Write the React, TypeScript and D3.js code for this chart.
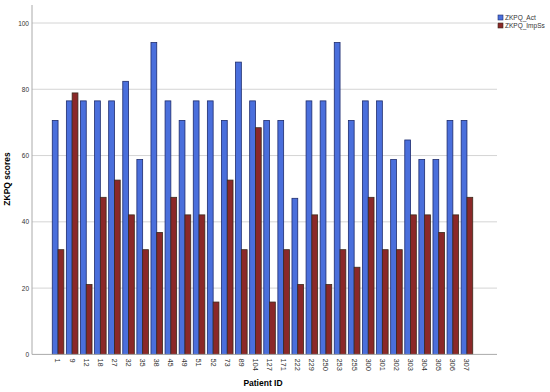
import React, { useRef, useEffect } from 'react';
import * as d3 from 'd3';

const patients = ['1', '9', '12', '18', '27', '32', '35', '38', '45', '49', '51', '52', '73', '89', '104', '127', '171', '222', '229', '250', '253', '255', '300', '301', '302', '303', '304', '305', '306', '307'];
const actScores = [70.6, 76.5, 76.5, 76.5, 76.5, 82.4, 58.8, 94.1, 76.5, 70.6, 76.5, 76.5, 70.6, 88.2, 76.5, 70.6, 70.6, 47.1, 76.5, 76.5, 94.1, 70.6, 76.5, 76.5, 58.8, 64.7, 58.8, 58.8, 70.6, 70.6];
const impScores = [31.6, 78.9, 21.1, 47.4, 52.6, 42.1, 31.6, 36.8, 47.4, 42.1, 42.1, 15.8, 52.6, 31.6, 68.4, 15.8, 31.6, 21.1, 42.1, 21.1, 31.6, 26.3, 47.4, 31.6, 31.6, 42.1, 42.1, 36.8, 42.1, 47.4];
const seriesNames = ['ZKPQ_Act', 'ZKPQ_ImpSs'];
const yTicks = [0, 20, 40, 60, 80, 100];

const fills = ['#4a6fdc', '#8b2828'];
const strokes = ['#1e2c6e', '#3b2a1c'];

const App = () => {
  const ref = useRef<SVGSVGElement>(null);

  useEffect(() => {
    const svg = d3.select(ref.current)
      .attr('width', 550)
      .attr('height', 392);
    svg.selectAll('*').remove();

    const font = 'Arial, "Liberation Sans", sans-serif';
    const y = d3.scaleLinear().domain([0, 100]).range([354.4, 23]);
    const x = d3.scaleBand().domain(patients).range([51, 474]).paddingInner(0.18).paddingOuter(0.09);
    const xs = d3.scaleBand().domain(seriesNames).range([0, x.bandwidth()]);

    // gridlines
    svg.append('g').selectAll('line')
      .data(yTicks.filter(t => t > 0))
      .enter().append('line')
      .attr('x1', 32).attr('x2', 497)
      .attr('y1', d => y(d)).attr('y2', d => y(d))
      .attr('stroke', '#d4d4d4').attr('stroke-width', 1);

    // bars
    const rows = patients.map((p, i) => ({ p, vals: [actScores[i], impScores[i]] }));
    const g = svg.append('g').selectAll('g')
      .data(rows)
      .enter().append('g')
      .attr('transform', d => `translate(${x(d.p)},0)`);
    g.selectAll('rect')
      .data(d => d.vals.map((v, k) => ({ v, k })))
      .enter().append('rect')
      .attr('x', d => xs(seriesNames[d.k])!)
      .attr('width', xs.bandwidth())
      .attr('y', d => y(d.v))
      .attr('height', d => y(0) - y(d.v))
      .attr('fill', d => fills[d.k])
      .attr('stroke', d => strokes[d.k])
      .attr('stroke-width', 0.8);

    // y axis
    const ya = svg.append('g')
      .attr('transform', 'translate(32,0)')
      .call(d3.axisLeft(y).tickValues(yTicks).tickSize(0).tickPadding(3));
    ya.select('.domain').remove();
    ya.selectAll('text').attr('font-family', font).attr('font-size', 6.5).attr('fill', '#333');
    svg.append('line')
      .attr('x1', 32).attr('x2', 32).attr('y1', 5).attr('y2', 354.4)
      .attr('stroke', '#aaa');

    // x axis
    const xa = svg.append('g')
      .attr('transform', `translate(0,${y(0)})`)
      .call(d3.axisBottom(x).tickSize(0).tickPadding(0));
    xa.select('.domain').remove();
    xa.selectAll('text')
      .attr('font-family', font).attr('font-size', 7.5).attr('fill', '#333')
      .attr('transform', 'rotate(90)')
      .attr('text-anchor', 'start')
      .attr('dy', '0.35em')
      .attr('x', 4).attr('y', 0);
    svg.append('line')
      .attr('x1', 32).attr('x2', 497).attr('y1', y(0)).attr('y2', y(0))
      .attr('stroke', '#aaa');

    // titles
    svg.append('text')
      .attr('transform', 'translate(10,179) rotate(-90)')
      .attr('text-anchor', 'middle')
      .attr('font-family', font).attr('font-size', 8.5).attr('font-weight', 'bold')
      .text('ZKPQ scores');
    svg.append('text')
      .attr('x', 263).attr('y', 386)
      .attr('text-anchor', 'middle')
      .attr('font-family', font).attr('font-size', 8.5).attr('font-weight', 'bold')
      .text('Patient ID');

    // legend
    const lg = svg.append('g').attr('transform', 'translate(498,15)');
    seriesNames.forEach((s, k) => {
      lg.append('rect')
        .attr('x', 0).attr('y', k * 8).attr('width', 5).attr('height', 5)
        .attr('fill', fills[k]).attr('stroke', strokes[k]).attr('stroke-width', 0.6);
      lg.append('text')
        .attr('x', 7).attr('y', k * 8 + 4.8)
        .attr('font-family', font).attr('font-size', 6.5).attr('fill', '#333')
        .text(s);
    });
  }, []);

  return <svg ref={ref} style={{ position: 'absolute', left: 0, top: 0 }}></svg>;
};

export default App;
